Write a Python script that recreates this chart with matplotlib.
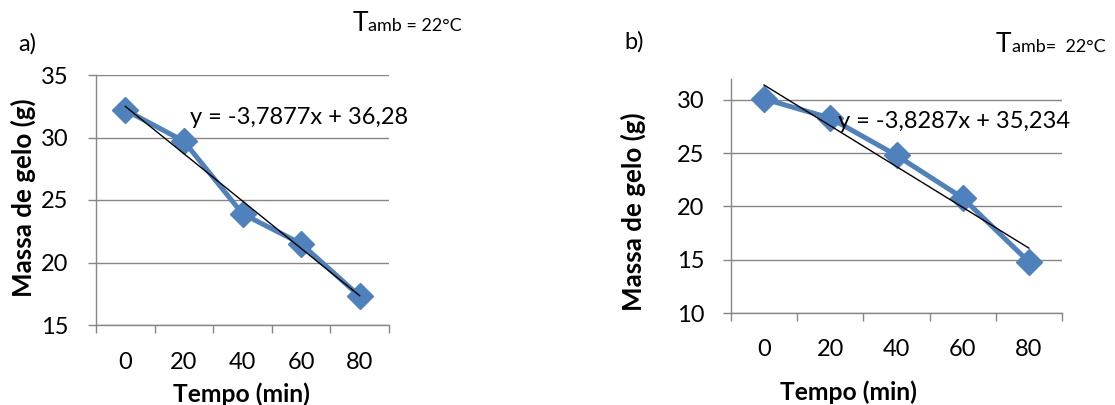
import matplotlib.pyplot as plt
from matplotlib.ticker import FixedLocator

plt.rcParams["font.family"] = ["Lato", "DejaVu Sans"]

CATEGORIES = ["0", "20", "40", "60", "80"]
MASS_A = [32.2, 29.7, 23.9, 21.5, 17.3]
MASS_B = [30.1, 28.3, 24.8, 20.8, 14.8]
TREND_A = (-3.7877, 36.28)
TREND_B = (-3.8287, 35.234)
EQ_A = "y = -3,7877x + 36,28"
EQ_B = "y = -3,8287x + 35,234"

BLUE = "#4F81BD"
GRID = "#868686"
W, H = 1115, 405


def px(x, y):
    return x / W, 1 - y / H


def draw_panel(ax, values, trend, yticks, ylim, xpad, ypad):
    xs = list(range(1, len(values) + 1))
    ax.plot(xs, values, color=BLUE, lw=3.6, marker="D", ms=13, zorder=3)
    slope, icpt = trend
    ax.plot([xs[0], xs[-1]], [slope * xs[0] + icpt, slope * xs[-1] + icpt],
            color="black", lw=1.0, zorder=4)
    ax.set_xlim(0.5, len(values) + 0.5)
    ax.set_ylim(*ylim)
    ax.set_yticks(yticks)
    ax.set_xticks(xs)
    ax.set_xticklabels(CATEGORIES)
    ax.xaxis.set_minor_locator(FixedLocator([x + 0.5 for x in range(0, len(values) + 1)]))
    ax.tick_params(axis="x", which="major", length=0, pad=xpad, labelsize=17)
    ax.tick_params(axis="x", which="minor", length=6, width=1.0, color=GRID, direction="out")
    ax.tick_params(axis="y", length=6, width=1.0, color=GRID, pad=ypad, labelsize=17)
    for yv in yticks:
        ax.axhline(yv, color=GRID, lw=1.0, zorder=1)
    for side in ["top", "right"]:
        ax.spines[side].set_visible(False)
    for side in ["left", "bottom"]:
        ax.spines[side].set_color(GRID)
        ax.spines[side].set_linewidth(1.0)


fig = plt.figure(figsize=(11.15, 4.05), dpi=100)

ax_a = fig.add_axes([96 / W, 1 - 325 / H, 293 / W, 250 / H])
draw_panel(ax_a, MASS_A, TREND_A, [15, 20, 25, 30, 35], (15, 35), 19.5, 14)

ax_b = fig.add_axes([731 / W, 1 - 313 / H, 331 / W, 234 / H])
draw_panel(ax_b, MASS_B, TREND_B, [10, 15, 20, 25, 30], (10, 31.97), 18.5, 13)

# equations
fig.text(*px(190, 118), EQ_A, fontsize=17, ha="left", va="center")
fig.text(*px(838, 122), EQ_B, fontsize=17, ha="left", va="center")

# axis titles
for cx, cy in [(241, 394), (848, 392)]:
    fig.text(*px(cx, cy), "Tempo (min)", fontsize=17.7, fontweight="bold",
             ha="center", va="center")
for cx, cy in [(23, 198), (633, 212)]:
    fig.text(*px(cx, cy), "Massa de gelo (g)", fontsize=18.7, fontweight="bold",
             ha="center", va="center", rotation=90)

# panel letters
fig.text(*px(18, 44), "a)", fontsize=17, ha="left", va="center")
fig.text(*px(624, 42), "b)", fontsize=17, ha="left", va="center")

# ambient temperature labels
for x0, yb, rest in [(353, 31, "amb = 22°C"), (996, 52, "amb=  22°C")]:
    t = fig.text(*px(x0, yb), "T", fontsize=19, ha="left", va="baseline")
    fig.canvas.draw()
    bb = t.get_window_extent()
    fig.text(bb.x1 / W, 1 - yb / H, rest, fontsize=13, ha="left", va="baseline")

fig.savefig("out.png", dpi=100)
